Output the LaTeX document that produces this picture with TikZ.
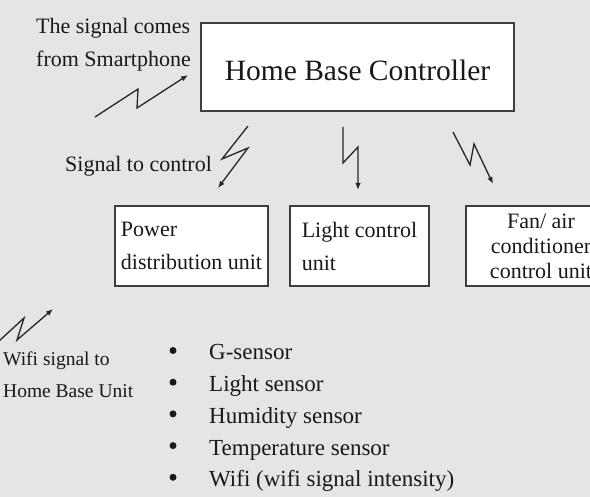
\documentclass[tikz,border=0pt]{standalone}
\usepackage{fontspec}
\setmainfont{Liberation Serif}
\usepackage{xcolor}
\usetikzlibrary{arrows.meta}

\definecolor{bgfill}{RGB}{229,229,229}
\definecolor{ink}{RGB}{25,25,25}
\definecolor{edgegray}{RGB}{62,62,62}

\begin{document}
\begin{tikzpicture}[
  x=1pt, y=-1pt,
  every node/.style={inner sep=0pt,text=ink},
  unitbox/.style={draw=edgegray,line width=1.3pt,fill=white,minimum height=80pt,align=left,font=\fontsize{22}{33}\selectfont},
  note/.style={align=left,font=\fontsize{22}{33}\selectfont},
  wifinote/.style={align=left,font=\fontsize{19.5}{32}\selectfont},
  bolt/.style={draw=black!85,line width=1.3pt,-{Latex[length=7pt,width=5.5pt]}},
  bulletdot/.style={circle,fill=ink,minimum size=7pt},
  listitem/.style={anchor=base west,font=\fontsize{23}{32}\selectfont},
]
\useasboundingbox (0,0) rectangle (590,497);
\clip (0,0) rectangle (590,497);
\fill[bgfill] (0,0) rectangle (590,497);

% controller and the three units
\node[draw=edgegray,line width=1.3pt,fill=white,minimum width=313pt,minimum height=88pt,
  text height=28pt,font=\fontsize{29.5}{34}\selectfont] (hbc) at (357.5,67) {Home Base Controller};
\node[unitbox,minimum width=153pt] (power) at (191.5,246) {Power\\distribution unit};
\node[unitbox,minimum width=139pt] (light) at (359.5,246) {Light control\\unit};
\node[unitbox,minimum width=150pt,align=center,font=\fontsize{22}{25}\selectfont]
  (fan) at (541,246) {Fan/ air\\conditioner\\control unit};

% labels
\node[note,anchor=north west] (smart) at (36,18) {The signal comes\\from Smartphone};
\node[note,anchor=base west] (ctrl) at (65,172) {Signal to control};
\node[wifinote,anchor=north west] (wifi) at (3,351.7) {Wifi signal to\\Home Base Unit};

% signal bolts
\draw[bolt] (95,117) -- (138,89) -- (137,108) -- (188,75);
\draw[bolt] (248,126) -- (222,159) -- (248,148) -- (218,188);
\draw[bolt] (343,127) -- (343,163) -- (358,147) -- (358,190);
\draw[bolt] (453,132) -- (470,165) -- (474,144) -- (493,184);
\draw[bolt] (-2,342) -- (24,318) -- (17,340) -- (53,309);

% sensor list
\foreach \txt [count=\i] in {{G-sensor},{Light sensor},{Humidity sensor},{Temperature sensor},{Wifi (wifi signal intensity)}} {
  \node[listitem] (item\i) at (209,328.3+31.7*\i) {\txt};
  \node[bulletdot] (dot\i) at (173,318.8+31.7*\i) {};
}
\end{tikzpicture}
\end{document}
